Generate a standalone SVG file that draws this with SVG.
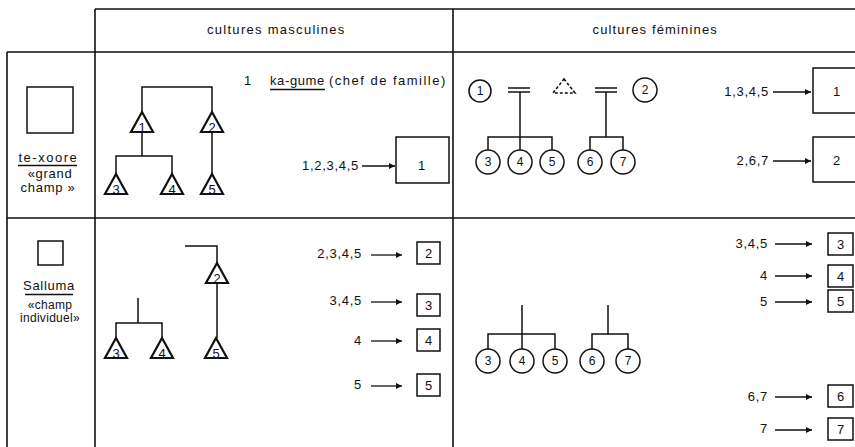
<svg xmlns="http://www.w3.org/2000/svg" width="855" height="447" viewBox="0 0 855 447">
<style>
.grid{stroke:#111;stroke-width:1.6;fill:none}
.ln{stroke:#111;stroke-width:1.5;fill:none}
.tri{stroke:#111;stroke-width:2.2;fill:#fff;stroke-linejoin:miter}
.cir{stroke:#111;stroke-width:1.5;fill:#fff}
.box{stroke:#111;stroke-width:1.5;fill:#fff}
.t{font-family:"Liberation Sans",Arial,sans-serif;font-size:13px;fill:#111;letter-spacing:0.7px}
.s{font-size:12px;letter-spacing:0.3px}
.e{text-anchor:end}
.m{text-anchor:middle}
.n{font-family:"Liberation Sans",Arial,sans-serif;font-size:12px;fill:#111;text-anchor:middle}
.tn{font-family:"Liberation Sans",Arial,sans-serif;font-size:13px;fill:#111;text-anchor:middle}
.arr{stroke:#111;stroke-width:1.3;fill:none;marker-end:url(#ah)}
</style>
<defs>
<marker id="ah" markerUnits="userSpaceOnUse" viewBox="0 0 10 10" refX="10" refY="5" markerWidth="10" markerHeight="6" orient="auto"><path d="M0,0 L10,5 L0,10 z" fill="#111"/></marker>
</defs>
<rect width="855" height="447" fill="#fff"/>

<g id="grid" class="grid">
<path d="M95,9 H855 M7,52 H855 M7,218 H855 M7,52 V447 M95,9 V447 M453,9 V447"/>
</g>

<g id="headers">
<text class="t m" x="276" y="34" textLength="138" lengthAdjust="spacing">cultures  masculines</text>
<text class="t m" x="655" y="34" textLength="125" lengthAdjust="spacing">cultures  féminines</text>
</g>

<g id="row-te-xoore">
<rect class="box" x="27" y="87" width="46" height="46"/>
<text class="t m" x="48" y="162" textLength="59" lengthAdjust="spacing">te-xoore</text>
<path class="ln" d="M18,165.5 H77" stroke-width="1"/>
<text class="t m" x="50" y="178">«grand</text>
<text class="t m" x="48" y="192">champ »</text>
</g>

<g id="row-salluma">
<rect class="box" x="38" y="241" width="25" height="24"/>
<text class="t m" x="49" y="290">Salluma</text>
<path class="ln" d="M25,294.5 H73" stroke-width="1"/>
<text class="t s m" x="50" y="309">«champ</text>
<text class="t s m" x="50" y="322">individuel»</text>
</g>

<g id="connectors">
<path class="ln" d="M142,112 V87 H212 V112 M142,132 V156 M116,174 V156 H172 V174 M212,132 V174"/>
<path class="ln" d="M185,246 H217 V263 M217,283 V338 M138,298 V323 M116,338 V323 H162 V338"/>
<path class="ln" d="M508,88 H530 M508,92 H530"/>
<path class="ln" d="M595,88 H617 M595,92 H617" stroke-width="2.2"/>
<path class="ln" d="M520,92 V150 M488,150 V137 H552 V150 M606,92 V137 M590,150 V137 H623 V150"/>
<path class="ln" d="M522,305 V349 M488,349 V334 H555 V349 M608,305 V334 M592,349 V334 H628 V349"/>
<path class="arr" d="M362,166 H395"/>
<path class="arr" d="M371,255 H402"/>
<path class="arr" d="M371,302 H402"/>
<path class="arr" d="M371,341 H402"/>
<path class="arr" d="M371,386 H402"/>
<path class="arr" d="M773,92 H811"/>
<path class="arr" d="M773,161 H811"/>
<path class="arr" d="M775,244 H812"/>
<path class="arr" d="M775,276 H812"/>
<path class="arr" d="M775,302 H812"/>
<path class="arr" d="M775,397 H812"/>
<path class="arr" d="M775,430 H812"/>
</g>

<g id="male-r1-1"><path class="tri" d="M142,112 L153,132 L131,132 Z"/><text class="tn" x="142" y="132">1</text></g>
<g id="male-r1-2"><path class="tri" d="M212,112 L223,132 L201,132 Z"/><text class="tn" x="212" y="132">2</text></g>
<g id="male-r1-3"><path class="tri" d="M116,174 L127,194 L105,194 Z"/><text class="tn" x="116" y="194">3</text></g>
<g id="male-r1-4"><path class="tri" d="M172,174 L183,194 L161,194 Z"/><text class="tn" x="172" y="194">4</text></g>
<g id="male-r1-5"><path class="tri" d="M212,174 L223,194 L201,194 Z"/><text class="tn" x="212" y="194">5</text></g>

<g id="legend-r1">
<text class="t" x="244" y="85">1</text>
<text class="t" x="270" y="85" textLength="55" lengthAdjust="spacing">ka-gume</text>
<path class="ln" d="M270,89.5 H325" stroke-width="1"/>
<text class="t" x="329" y="85" textLength="117" lengthAdjust="spacing">(chef de famille)</text>
</g>

<g id="male-r1-field">
<text class="t e" x="359" y="170">1,2,3,4,5</text>
<rect class="box" x="396" y="137" width="53" height="46"/>
<text class="t m" x="422" y="170">1</text>
</g>

<g id="male-r2-2"><path class="tri" d="M217,263 L228,283 L206,283 Z"/><text class="tn" x="217" y="283">2</text></g>
<g id="male-r2-3"><path class="tri" d="M116,338 L127,358 L105,358 Z"/><text class="tn" x="116" y="358">3</text></g>
<g id="male-r2-4"><path class="tri" d="M162,338 L173,358 L151,358 Z"/><text class="tn" x="162" y="358">4</text></g>
<g id="male-r2-5"><path class="tri" d="M216,338 L227,358 L205,358 Z"/><text class="tn" x="216" y="358">5</text></g>

<g id="male-r2-fields">
<text class="t e" x="362" y="258">2,3,4,5</text>
<rect class="box" x="417" y="242" width="23" height="22"/><text class="t m" x="429" y="258">2</text>
<text class="t e" x="362" y="305">3,4,5</text>
<rect class="box" x="417" y="294" width="23" height="22"/><text class="t m" x="429" y="310">3</text>
<text class="t e" x="362" y="345">4</text>
<rect class="box" x="417" y="329" width="23" height="22"/><text class="t m" x="429" y="345">4</text>
<text class="t e" x="362" y="389">5</text>
<rect class="box" x="417" y="374" width="23" height="22"/><text class="t m" x="429" y="390">5</text>
</g>

<g id="fem-r1-1"><circle class="cir" cx="480" cy="91" r="11"/><text class="n" x="480" y="95">1</text></g>
<g id="fem-r1-ego"><path d="M564,79 L575,93 L553,93 Z" fill="none" stroke="#111" stroke-width="1.6" stroke-dasharray="3,2"/></g>
<g id="fem-r1-2"><circle class="cir" cx="645" cy="90" r="12"/><text class="n" x="645" y="94">2</text></g>
<g id="fem-r1-3"><circle class="cir" cx="488" cy="162" r="12"/><text class="n" x="488" y="166">3</text></g>
<g id="fem-r1-4"><circle class="cir" cx="520" cy="162" r="12"/><text class="n" x="520" y="166">4</text></g>
<g id="fem-r1-5"><circle class="cir" cx="552" cy="162" r="12"/><text class="n" x="552" y="166">5</text></g>
<g id="fem-r1-6"><circle class="cir" cx="590" cy="162" r="12"/><text class="n" x="590" y="166">6</text></g>
<g id="fem-r1-7"><circle class="cir" cx="623" cy="162" r="12"/><text class="n" x="623" y="166">7</text></g>

<g id="fem-r1-fields">
<text class="t e" x="769" y="96">1,3,4,5</text>
<rect class="box" x="813" y="68" width="50" height="45"/><text class="t m" x="837" y="96">1</text>
<text class="t e" x="769" y="165">2,6,7</text>
<rect class="box" x="813" y="137" width="50" height="45"/><text class="t m" x="837" y="165">2</text>
</g>

<g id="fem-r2-3"><circle class="cir" cx="488" cy="361" r="12"/><text class="n" x="488" y="365">3</text></g>
<g id="fem-r2-4"><circle class="cir" cx="522" cy="361" r="12"/><text class="n" x="522" y="365">4</text></g>
<g id="fem-r2-5"><circle class="cir" cx="555" cy="361" r="12"/><text class="n" x="555" y="365">5</text></g>
<g id="fem-r2-6"><circle class="cir" cx="592" cy="361" r="12"/><text class="n" x="592" y="365">6</text></g>
<g id="fem-r2-7"><circle class="cir" cx="628" cy="361" r="12"/><text class="n" x="628" y="365">7</text></g>

<g id="fem-r2-fields">
<text class="t e" x="768" y="248">3,4,5</text>
<rect class="box" x="828" y="233" width="25" height="22"/><text class="t m" x="841" y="249">3</text>
<text class="t e" x="768" y="280">4</text>
<rect class="box" x="828" y="265" width="25" height="22"/><text class="t m" x="841" y="281">4</text>
<text class="t e" x="768" y="306">5</text>
<rect class="box" x="828" y="290" width="25" height="22"/><text class="t m" x="841" y="306">5</text>
<text class="t e" x="768" y="401">6,7</text>
<rect class="box" x="828" y="385" width="25" height="22"/><text class="t m" x="841" y="401">6</text>
<text class="t e" x="768" y="433">7</text>
<rect class="box" x="828" y="418" width="25" height="22"/><text class="t m" x="841" y="434">7</text>
</g>
</svg>
